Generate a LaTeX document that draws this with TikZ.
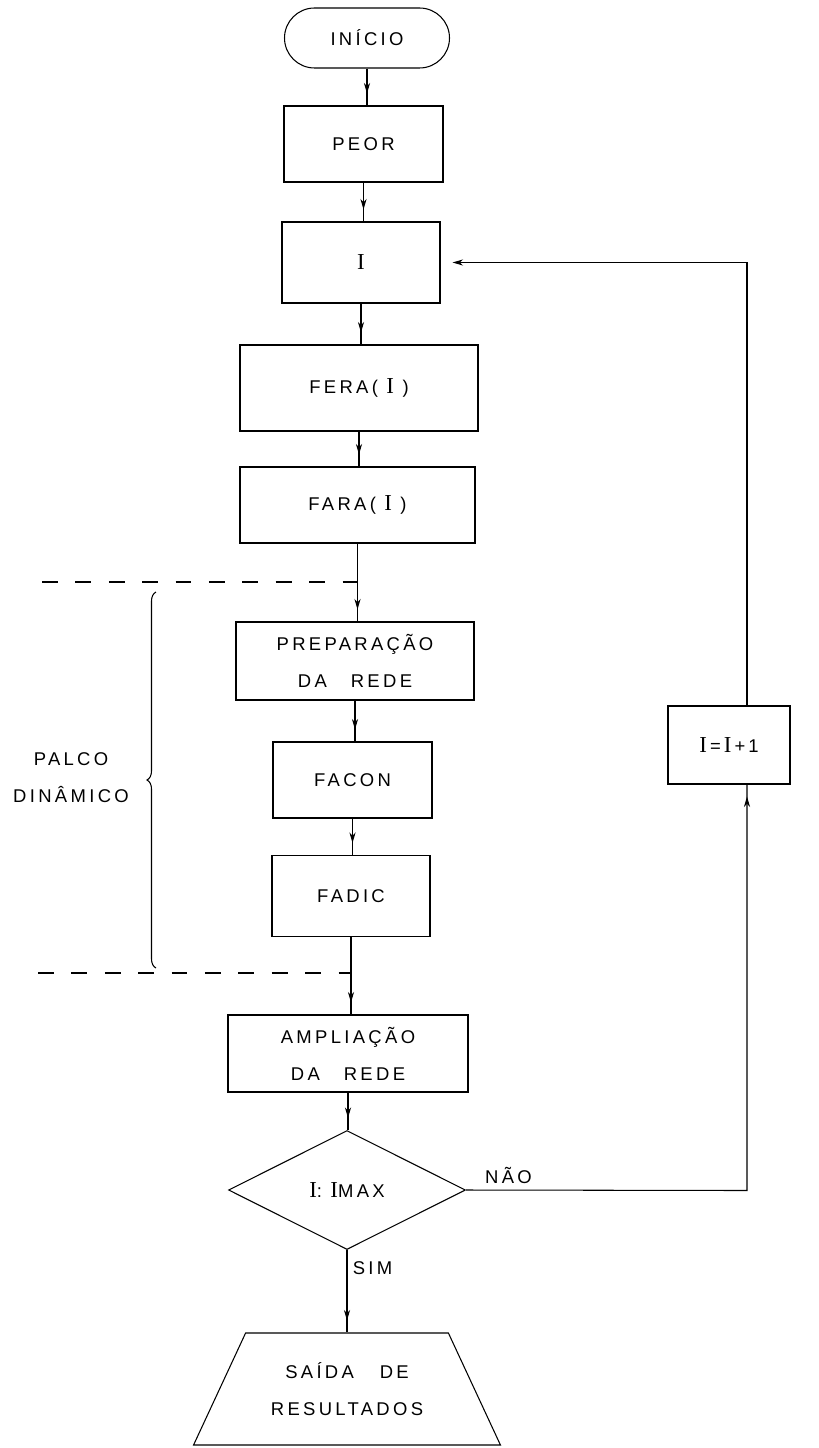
\documentclass[tikz,border=0pt]{standalone}
\usepackage{fontspec}
\setmainfont[LetterSpace=18]{Liberation Sans}
\newfontfamily\serifI{Liberation Serif}
\usepackage{tikz}
\usetikzlibrary{arrows.meta,positioning,shapes.geometric,decorations.pathreplacing,decorations.markings}
\newcommand{\Iv}{{\serifI\fontsize{13pt}{21pt}\selectfont I}}
\tikzset{
  box/.style={draw,align=center,inner sep=2pt},
  flow/.style={draw,postaction={decorate},
    decoration={markings,mark=at position -0.24cm with {\arrow{Stealth[length=6pt,width=3.5pt]}}}},
  cut/.style={dash pattern=on 9pt off 10pt},
}

\begin{document}
\begin{tikzpicture}[font=\fontsize{10.5pt}{21pt}\selectfont,line width=0.6pt]
  \useasboundingbox (0,0) rectangle (16.38,-28.96);
  % main column
  \node[draw,rounded corners=0.6cm,minimum width=3.3cm,minimum height=1.2cm] (start) at (7.34,-0.76) {INÍCIO};
  \node[box,minimum width=3.18cm,minimum height=1.52cm] (peor) at (7.27,-2.88) {PEOR};
  \node[box,minimum width=3.16cm,minimum height=1.62cm] (ivar) at (7.22,-5.25) {\Iv};
  \node[box,minimum width=4.76cm,minimum height=1.72cm] (fera) at (7.18,-7.76) {FERA( \Iv{} )};
  \node[box,minimum width=4.70cm,minimum height=1.52cm] (fara) at (7.15,-10.10) {FARA( \Iv{} )};
  \node[box,minimum width=4.76cm,minimum height=1.56cm] (prep) at (7.10,-13.22) {PREPARAÇÃO\\DA\hspace{1.3em}REDE};
  \node[box,minimum width=3.18cm,minimum height=1.52cm] (facon) at (7.05,-15.60) {FACON};
  \node[box,minimum width=3.16cm,minimum height=1.62cm] (fadic) at (7.02,-17.92) {FADIC};
  \node[box,minimum width=4.80cm,minimum height=1.54cm] (ampl) at (6.96,-21.07) {AMPLIAÇÃO\\DA\hspace{1.3em}REDE};
  \node[draw,diamond,inner sep=0pt,minimum width=4.74cm,minimum height=2.38cm] (test) at (6.94,-23.80) {\Iv:\ \Iv MAX};
  \node[draw,trapezium,trapezium angle=57,trapezium stretches=true,align=center,
        minimum width=6.14cm,minimum height=2.24cm] (out) at (6.94,-27.78) {SAÍDA\hspace{1.4em}DE\\RESULTADOS};
  \node[box,minimum width=2.44cm,minimum height=1.56cm] (incr) at (14.58,-14.90) {\Iv\,=\,\Iv\,+\,1};

  \draw[flow] (start.south) -- (start.south |- peor.north);
  \draw[flow] (peor.south) -- (peor.south |- ivar.north);
  \draw[flow] (ivar.south) -- (ivar.south |- fera.north);
  \draw[flow] (fera.south) -- (fera.south |- fara.north);
  \draw[flow] (fara.south) -- (fara.south |- prep.north);
  \draw[flow] (prep.south) -- (prep.south |- facon.north);
  \draw[flow] (facon.south) -- (facon.south |- fadic.north);
  \draw[flow] (fadic.south) -- (fadic.south |- ampl.north);
  \draw[flow] (ampl.south) -- (ampl.south |- test.north);
  \draw[flow] (test.south) -- (test.south |- out.north);

  % loop back
  \coordinate (nao) at (14.94,-23.81);
  \draw[flow] (test.east) -- (nao) -- (nao |- incr.south);
  \draw[-{Stealth[length=6pt,width=3.5pt]},shorten >=0.24cm] (nao |- incr.north) -- (nao |- ivar.east) -- (ivar.east);
  \node (no) at (10.17,-23.50) {NÃO};
  \node (yes) at (7.45,-25.36) {SIM};

  % dynamic stage
  \coordinate (dtop) at (0.84,-11.64);
  \coordinate (dbot) at (0.76,-19.46);
  \draw[cut] (dtop) -- (dtop -| fara.south);
  \draw[cut] (dbot) -- (dbot -| fadic.south);
  \draw[decorate,decoration={brace,amplitude=0.18cm}] (3.12,-19.36) -- (3.12,-11.84);
  \node[align=center] (palco) at (1.42,-15.56) {PALCO\\DINÂMICO};
\end{tikzpicture}
\end{document}
